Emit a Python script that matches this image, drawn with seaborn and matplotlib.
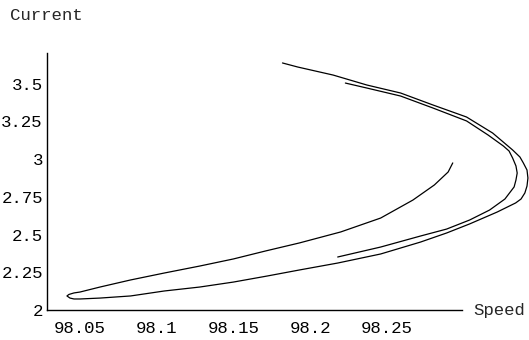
import numpy as np
import pandas as pd
import matplotlib
matplotlib.use("Agg")
import matplotlib.pyplot as plt
import seaborn as sns

# long trajectory: top end -> outer right turn -> lower branch -> tip -> upper branch -> inner arc end
speed_a = [98.182, 98.192, 98.215, 98.237, 98.259, 98.280, 98.302, 98.319, 98.332, 98.3368,
           98.339, 98.3414, 98.342, 98.3414, 98.340, 98.3375, 98.334, 98.322, 98.304, 98.289,
           98.272, 98.246, 98.218, 98.193, 98.172, 98.150, 98.128, 98.105, 98.083, 98.063,
           98.050, 98.0461, 98.0435, 98.0415, 98.0428, 98.0461, 98.050, 98.063, 98.083, 98.105,
           98.128, 98.150, 98.171, 98.193, 98.220, 98.246, 98.267, 98.281, 98.290, 98.293]
current_a = [3.636, 3.609, 3.556, 3.490, 3.437, 3.358, 3.278, 3.172, 3.060, 3.013,
             2.974, 2.927, 2.874, 2.821, 2.775, 2.735, 2.709, 2.649, 2.570, 2.510,
             2.450, 2.371, 2.311, 2.265, 2.225, 2.185, 2.152, 2.126, 2.093, 2.079,
             2.073, 2.073, 2.079, 2.093, 2.103, 2.113, 2.119, 2.152, 2.199, 2.245,
             2.291, 2.338, 2.391, 2.444, 2.517, 2.609, 2.728, 2.828, 2.914, 2.974]

# short strand: starts in the lower bundle, inner right turn, back along the top band
speed_b = [98.218, 98.246, 98.272, 98.289, 98.304, 98.317, 98.327, 98.333, 98.3342, 98.335,
           98.3342, 98.332, 98.3297, 98.326, 98.316, 98.302, 98.280, 98.259, 98.237, 98.223]
current_b = [2.351, 2.417, 2.490, 2.536, 2.596, 2.662, 2.735, 2.815, 2.861, 2.907,
             2.954, 3.007, 3.053, 3.086, 3.159, 3.252, 3.338, 3.417, 3.470, 3.503]

x_ticks = [98.05, 98.1, 98.15, 98.2, 98.25]
x_labels = ['98.05', '98.1', '98.15', '98.2', '98.25']
y_ticks = [2, 2.25, 2.5, 2.75, 3, 3.25, 3.5]
y_labels = ['2', '2.25', '2.5', '2.75', '3', '3.25', '3.5']

df_a = pd.DataFrame({'Speed': speed_a, 'Current': current_a})
df_b = pd.DataFrame({'Speed': speed_b, 'Current': current_b})

sns.set_theme(style="white")
plt.rcParams['font.family'] = ['Liberation Mono', 'DejaVu Sans Mono']

fig = plt.figure(figsize=(5.29, 3.40), dpi=100)
ax = fig.add_axes([47 / 529, 30 / 340, 482 / 529, 257 / 340])

for d in (df_a, df_b):
    sns.lineplot(data=d, x='Speed', y='Current', sort=False, estimator=None,
                 color='black', linewidth=0.9, ax=ax, clip_on=False,
                 solid_joinstyle='round')

ax.set_xlim(98.0285, 98.3427)
ax.set_ylim(2, 3.702)
ax.set_xticks(x_ticks)
ax.set_xticklabels(x_labels)
ax.set_yticks(y_ticks)
ax.set_yticklabels(y_labels)
ax.set_xlabel('')
ax.set_ylabel('')

for s in ('top', 'right'):
    ax.spines[s].set_visible(False)
for s in ('left', 'bottom'):
    ax.spines[s].set_color('black')
    ax.spines[s].set_linewidth(1.0)
ax.spines['bottom'].set_bounds(98.0285, 98.299)

ax.tick_params(axis='both', direction='in', length=3, width=0.8, color='black',
               labelsize=12.5, labelcolor='black')
ax.tick_params(axis='x', pad=8)
ax.tick_params(axis='y', pad=3)

fig.text(10 / 529, 1 - 15 / 340, 'Current', fontsize=12.5, ha='left', va='center')
fig.text(473 / 529, 1 - 311 / 340, 'Speed', fontsize=12.5, ha='left', va='center')

fig.savefig('out.png', dpi=100, facecolor='white')
